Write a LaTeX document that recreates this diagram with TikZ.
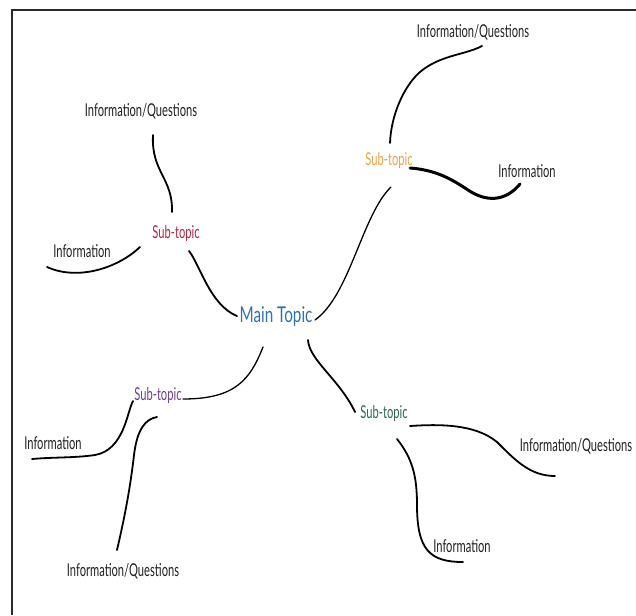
\documentclass[tikz,border=0pt]{standalone}
\usepackage{fontspec}
\setmainfont{Lato}
\newfontfamily\smallf{Lato}[FakeStretch=0.63]
\newfontfamily\mainf{Lato}[FakeStretch=0.70]
\definecolor{txt}{HTML}{222222}
\definecolor{mainblue}{HTML}{2E74B0}
\definecolor{subred}{HTML}{B3283C}
\definecolor{suborange}{HTML}{E9A548}
\definecolor{subpurple}{HTML}{6B3E91}
\definecolor{subgreen}{HTML}{2C6A50}
\definecolor{framec}{HTML}{2A2A2A}
\tikzset{
  leaf/.style={inner sep=0pt, text=txt, font=\smallf\fontsize{17.7pt}{20pt}\selectfont},
  subnode/.style={inner sep=0pt, font=\smallf\fontsize{17.7pt}{20pt}\selectfont},
  mainnode/.style={inner sep=0pt, text=mainblue, font=\mainf\fontsize{21.8pt}{24pt}\selectfont},
  link/.style={draw=black, line width=1.8pt, line cap=round},
  thinlink/.style={draw=black, line width=1.3pt, line cap=round},
  thicklink/.style={draw=black, line width=3pt, line cap=round},
  framel/.style={draw=framec, line width=2pt}
}
\begin{document}
\begin{tikzpicture}[x=1pt,y=-1pt]
\useasboundingbox (0,0) rectangle (636,615);
\fill[white] (0,0) rectangle (636,615);
% frame
\coordinate (ftr) at (636,10);
\coordinate (ftl) at (12,10);
\coordinate (fbl) at (12,615);
\draw[framel] (ftr) -- (ftl) -- (fbl);

% nodes
\node[mainnode] (main) at (276,316) {Main Topic};
\node[subnode,text=subred] (s1) at (176,233) {Sub-topic};
\node[subnode,text=suborange] (s2) at (389,160) {Sub-topic};
\node[subnode,text=subpurple] (s3) at (158,395) {Sub-topic};
\node[subnode,text=subgreen] (s4) at (384,413) {Sub-topic};
\node[leaf] (q1) at (141,111) {Information/Questions};
\node[leaf] (i1) at (82,251) {Information};
\node[leaf] (q2) at (473,32) {Information/Questions};
\node[leaf] (i2) at (527,171) {Information};
\node[leaf] (i3) at (53,443) {Information};
\node[leaf] (q3) at (123,571) {Information/Questions};
\node[leaf] (q4) at (576,446) {Information/Questions};
\node[leaf] (i4) at (462,546) {Information};

% top-left group
\draw[link] ([shift={(12,24)}]q1.center) .. controls (151,172) and (173,178) .. ([shift={(-4,-21)}]s1.center);
\draw[link] ([shift={(-35,16)}]i1.center) .. controls (78,281) and (118,268) .. ([shift={(-36,14)}]s1.center);
\draw[link] ([shift={(13,18)}]s1.center) .. controls (200,265) and (210,305) .. ([shift={(-39,0)}]main.center);

% top-right group
\draw[link] ([shift={(9,14)}]q2.center) .. controls (465,55) and (440,55) .. (420,72)
  .. controls (404,86) and (391,115) .. ([shift={(1,-17)}]s2.center);
\draw[thicklink] ([shift={(21,8)}]s2.center) .. controls (435,170) and (450,178) .. (468,190)
  .. controls (486,202) and (505,202) .. ([shift={(-7,13)}]i2.center);
\draw[thinlink] ([shift={(39,4)}]main.center) .. controls (350,295) and (362,215) .. ([shift={(2,27)}]s2.center);

% bottom-left group
\draw[thinlink] ([shift={(-13,31)}]main.center) .. controls (250,380) and (235,399) .. ([shift={(25,4)}]s3.center);
\draw[link] ([shift={(-25,6)}]s3.center) .. controls (127,412) and (124,450) .. (95,455)
  .. controls (75,458) and (55,457) .. ([shift={(-21,16)}]i3.center);
\draw[link] ([shift={(-1,22)}]s3.center) .. controls (145,419) and (137,430) .. (134,455)
  .. controls (130,490) and (124,520) .. ([shift={(-6,-21)}]q3.center);

% bottom-right group
\draw[link] ([shift={(32,24)}]main.center) .. controls (309,360) and (340,380) .. ([shift={(-29,-1)}]s4.center);
\draw[link] ([shift={(26,13)}]s4.center) .. controls (440,424) and (475,424) .. (497,442)
  .. controls (515,460) and (530,476) .. ([shift={(-21,30)}]q4.center);
\draw[link] ([shift={(13,26)}]s4.center) .. controls (412,458) and (417,475) .. (417,505)
  .. controls (417,550) and (430,562) .. ([shift={(1,16)}]i4.center);
\end{tikzpicture}
\end{document}
